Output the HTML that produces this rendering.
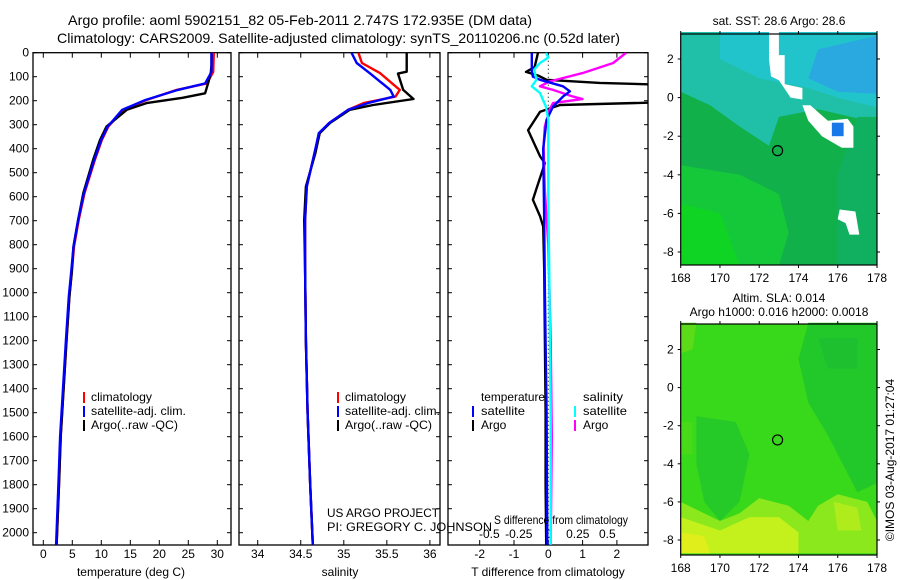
<!DOCTYPE html>
<html><head><meta charset="utf-8">
<style>
html,body{margin:0;padding:0;background:#fff;}
svg{display:block;font-family:"Liberation Sans",sans-serif;}
</style></head>
<body>
<svg id="fig" width="900" height="580" viewBox="0 0 900 580" xmlns="http://www.w3.org/2000/svg">
<defs>
<clipPath id="c1"><rect x="33" y="52.7" width="198" height="492.3"/></clipPath>
<clipPath id="c2"><rect x="239" y="52.7" width="201" height="492.3"/></clipPath>
<clipPath id="c3"><rect x="448" y="52.7" width="200" height="492.3"/></clipPath>
</defs>
<text x="68" y="25" font-size="14" textLength="464" lengthAdjust="spacingAndGlyphs">Argo profile: aoml 5902151_82 05-Feb-2011 2.747S 172.935E (DM data)</text>
<text x="57" y="43" font-size="14" textLength="563" lengthAdjust="spacingAndGlyphs">Climatology: CARS2009. Satellite-adjusted climatology: synTS_20110206.nc (0.52d later)</text>

<g id="p1"></g>
<g id="p2"></g>
<g id="p3"></g>

<g font-size="12">
<rect x="83" y="392" width="2" height="11" fill="#f00"/><text x="91" y="401" textLength="61" lengthAdjust="spacingAndGlyphs">climatology</text>
<rect x="83" y="406" width="2" height="11" fill="#00f"/><text x="91" y="415" textLength="95" lengthAdjust="spacingAndGlyphs">satellite-adj. clim.</text>
<rect x="83" y="420" width="2" height="11" fill="#000"/><text x="91" y="429" textLength="87" lengthAdjust="spacingAndGlyphs">Argo(..raw -QC)</text>
</g>
<g font-size="12">
<rect x="337" y="392" width="2" height="11" fill="#f00"/><text x="345" y="401" textLength="61" lengthAdjust="spacingAndGlyphs">climatology</text>
<rect x="337" y="406" width="2" height="11" fill="#00f"/><text x="345" y="415" textLength="95" lengthAdjust="spacingAndGlyphs">satellite-adj. clim.</text>
<rect x="337" y="420" width="2" height="11" fill="#000"/><text x="345" y="429" textLength="87" lengthAdjust="spacingAndGlyphs">Argo(..raw -QC)</text>
</g>
<g font-size="12">
<text x="481" y="401" textLength="64" lengthAdjust="spacingAndGlyphs">temperature</text><text x="583" y="401" textLength="40" lengthAdjust="spacingAndGlyphs">salinity</text>
<rect x="472" y="406" width="2" height="11" fill="#00f"/><text x="481" y="415" textLength="44" lengthAdjust="spacingAndGlyphs">satellite</text>
<rect x="472" y="420" width="2" height="11" fill="#000"/><text x="481" y="429">Argo</text>
<rect x="574" y="406" width="2" height="11" fill="#0ff"/><text x="583" y="415" textLength="44" lengthAdjust="spacingAndGlyphs">satellite</text>
<rect x="574" y="420" width="2" height="11" fill="#f0f"/><text x="583" y="429">Argo</text>
</g>
<text x="327" y="517" font-size="12" textLength="112" lengthAdjust="spacingAndGlyphs">US ARGO PROJECT</text>
<text x="327" y="531" font-size="12" textLength="165" lengthAdjust="spacingAndGlyphs">PI: GREGORY C. JOHNSON</text>
<text x="494" y="524" font-size="12" textLength="134" lengthAdjust="spacingAndGlyphs">S difference from climatology</text>
<text x="131" y="576" font-size="12" text-anchor="middle">temperature (deg C)</text>
<text x="340" y="576" font-size="12" text-anchor="middle">salinity</text>
<text x="548" y="576" font-size="12" text-anchor="middle">T difference from climatology</text>

<g>
<text x="779" y="25" font-size="12" text-anchor="middle">sat. SST: 28.6 Argo: 28.6</text>
<g id="m1"></g>
</g>
<g>
<text x="779" y="302" font-size="12" text-anchor="middle">Altim. SLA: 0.014</text>
<text x="779" y="316" font-size="12" text-anchor="middle">Argo h1000: 0.016 h2000: 0.0018</text>
<g id="m2"></g>
</g>
<text transform="translate(894,460) rotate(-90)" font-size="12" text-anchor="middle">©IMOS 03-Aug-2017 01:27:04</text>
</svg>
<script>
const tArgoDepth=[0,50,80,120,169,188,210,238,308,363,446,585,697,808,918,1016,1200,1400,1600,1800,2050];
const tArgo=[29.0,29.0,28.9,28.5,27.9,24,17.8,14.4,10.9,9.8,8.6,6.9,6.0,5.2,4.9,4.5,4.0,3.5,3.0,2.7,2.3];
const climDepth=[0,80,128,155,197,238,308,363,446,585,697,808,918,1016,1200,1400,1600,1800,2050];
const tClim=[29.4,29.3,28.2,23,17.8,13.8,11.2,10.1,8.9,7.1,6.1,5.3,4.9,4.5,4.0,3.5,3.0,2.7,2.3];
const tSat=[29.0,29.0,27.9,23.2,17.6,13.6,11.1,10.0,8.8,7.0,6.0,5.2,4.8,4.4,3.9,3.4,2.9,2.6,2.2];
const sArgoDepth=[0,79,87,155,193,218,238,293,335,418,558,697,900,1200,1500,1800,2050];
const sArgo=[35.73,35.73,35.63,35.69,35.81,35.34,35.07,34.84,34.72,34.67,34.56,34.54,34.55,34.56,34.58,34.61,34.64];
const sClimDepth=[0,43,85,155,183,210,238,293,335,418,558,697,900,1200,1500,1800,2050];
const sClim=[35.17,35.21,35.42,35.65,35.6,35.23,35.05,34.83,34.72,34.66,34.57,34.55,34.55,34.56,34.58,34.61,34.64];
const sSat=[35.09,35.15,35.30,35.54,35.58,35.28,35.05,34.83,34.71,34.66,34.57,34.55,34.55,34.56,34.58,34.61,34.64];
const dTArgoDepth=[0,60,80,95,113,126,140,170,204,218,246,323,432,460,565,613,682,724,900,1200,1500,1800,2050];
const dTArgo=[-0.3,-0.4,-0.65,-0.3,-0.05,1.5,5,6,4,0.34,-0.24,-0.59,-0.24,-0.1,-0.34,-0.45,-0.24,-0.15,-0.12,-0.1,-0.08,-0.08,-0.06];
const dSArgoDepth=[0,43,85,120,140,155,183,193,210,238,308,391,572,800,1200,1600,2050];
const dSArgo=[0.66,0.55,0.29,0.01,-0.07,0.04,0.21,0.29,0.04,0.01,-0.03,-0.04,-0.03,0.0,0.02,0.03,0.02];
const dTSatDepth=[0,80,100,113,140,161,183,224,280,400,700,1000,1500,2050];
const dTSat=[-0.48,-0.48,-0.45,-0.24,0.43,0.63,0.43,0.14,-0.05,-0.15,-0.12,-0.1,-0.05,-0.03];
const dSSatDepth=[0,20,43,71,113,140,168,224,280,600,1000,1500,2050];
const dSSat=[-0.02,0,-0.07,-0.12,-0.1,-0.14,-0.07,-0.02,0,0.0,0.01,0.02,0.02];
const depthTicks=[0,100,200,300,400,500,600,700,800,900,1000,1100,1200,1300,1400,1500,1600,1700,1800,1900,2000];
const tTicks=[0,5,10,15,20,25,30];
const sTicks=[34,34.5,35,35.5,36];
const dTTicks=[-2,-1,0,1,2];
const dSTicks=[-0.5,-0.25,0,0.25,0.5];
const dSTickLabels=['-0.5','-0.25','0','0.25','0.5'];
const lonTicks=[168,170,172,174,176,178];
const latTicks=[2,0,-2,-4,-6,-8];
const argoLon=172.935, argoLat=-2.747;

const yD=d=>52.7+d*0.24;
const xT=t=>43.3+5.8*t;
const xS=s=>257.7+86.1*(s-34);
const xdT=t=>548.3+34.3*t;
const xdS=s=>548.3+118*s;
const NS='http://www.w3.org/2000/svg';
function el(tag,attrs,parent){const e=document.createElementNS(NS,tag);for(const k in attrs)e.setAttribute(k,attrs[k]);parent.appendChild(e);return e;}

function frame(g,x0,x1,xs,xt,labels,showY){
  const top=52.7,bot=545;
  const r=el('rect',{x:x0,y:top,width:x1-x0,height:bot-top,fill:'none',stroke:'#000','stroke-width':1.3},g);
  
  
  depthTicks.forEach(d=>{
    el('line',{x1:x0,x2:x0+4,y1:yD(d),y2:yD(d),stroke:'#000'},g);
    el('line',{x1:x1-4,x2:x1,y1:yD(d),y2:yD(d),stroke:'#000'},g);
    if(showY){const t=el('text',{x:x0-4,y:yD(d)+4,'font-size':12,'text-anchor':'end'},g);t.textContent=d;
      
      }
  });
  xt.forEach((v,i)=>{
    const x=xs(v);
    el('line',{x1:x,x2:x,y1:top,y2:top+5,stroke:'#000'},g);
    el('line',{x1:x,x2:x,y1:bot-5,y2:bot,stroke:'#000'},g);
    const t=el('text',{x:x,y:558,'font-size':12,'text-anchor':'middle'},g);t.textContent=labels?labels[i]:v;
    
    
  });
}
function line(g,depths,vals,xs,color,name,clip){
  const p=depths.map((d,i)=>xs(vals[i]).toFixed(1)+','+yD(d).toFixed(1)).join(' ');
  const e=el('polyline',{points:p,fill:'none',stroke:color,'stroke-width':2.4,'clip-path':'url(#'+clip+')','stroke-linejoin':'round'},g);
  
  
}
const p1=document.getElementById('p1'),p2=document.getElementById('p2'),p3=document.getElementById('p3');
frame(p1,33,231,xT,tTicks,null,true);
frame(p2,239,440,xS,sTicks,null,false);
frame(p3,448,648,xdT,dTTicks,null,false);
dSTicks.forEach((v,i)=>{const t=el('text',{x:xdS(v),y:538,'font-size':12,'text-anchor':'middle'},p3);t.textContent=dSTickLabels[i];
  
  });
const z=el('line',{x1:xdT(0),x2:xdT(0),y1:52.7,y2:545,stroke:'#000','stroke-dasharray':'1,3'},p3);



line(p1,climDepth,tClim,xT,'#f00','temperature-climatology-line','c1');
line(p1,tArgoDepth,tArgo,xT,'#000','temperature-argo-line','c1');
line(p1,climDepth,tSat,xT,'#00f','temperature-satellite-line','c1');
line(p2,sClimDepth,sClim,xS,'#f00','salinity-climatology-line','c2');
line(p2,sArgoDepth,sArgo,xS,'#000','salinity-argo-line','c2');
line(p2,sClimDepth,sSat,xS,'#00f','salinity-satellite-line','c2');
line(p3,dTArgoDepth,dTArgo,xdT,'#000','t-diff-argo-line','c3');
line(p3,dSArgoDepth,dSArgo,xdS,'#f0f','s-diff-argo-line','c3');
line(p3,dTSatDepth,dTSat,xdT,'#00f','t-diff-satellite-line','c3');
line(p3,dSSatDepth,dSSat,xdS,'#0ff','s-diff-satellite-line','c3');

function mapAxes(g,top,bot,lat2y,latm8y){
  const L=680.7,R=877;
  const lx=v=>L+(v-168)*(R-L)/10;
  const ly=v=>lat2y+(2-v)*(latm8y-lat2y)/10;
  return {L,R,lx,ly,finish(){
    const r=el('rect',{x:L,y:top,width:R-L,height:bot-top,fill:'none',stroke:'#000','stroke-width':1.2},g);
    
    
    lonTicks.forEach(v=>{el('line',{x1:lx(v),x2:lx(v),y1:top-3,y2:top,stroke:'#000'},g);el('line',{x1:lx(v),x2:lx(v),y1:bot,y2:bot+3,stroke:'#000'},g);
      const t=el('text',{x:lx(v),y:bot+17,'font-size':12,'text-anchor':'middle'},g);t.textContent=v;
      
      });
    latTicks.forEach(v=>{el('line',{x1:L-3,x2:L,y1:ly(v),y2:ly(v),stroke:'#000'},g);el('line',{x1:R,x2:R+3,y1:ly(v),y2:ly(v),stroke:'#000'},g);
      const t=el('text',{x:L-7,y:ly(v)+4,'font-size':12,'text-anchor':'end'},g);t.textContent=v;
      
      });
    const c=el('circle',{cx:lx(argoLon),cy:ly(argoLat),r:5,fill:'none',stroke:'#000','stroke-width':1.2},g);
    
    
  }};
}
function poly(g,pts,fill,A){el('polygon',{points:pts.map(p=>A.lx(p[0]).toFixed(1)+','+A.ly(p[1]).toFixed(1)).join(' '),fill:fill},g);}
const m1=document.getElementById('m1');
const A1=mapAxes(m1,34,265,59,252);
el('rect',{x:A1.L,y:34,width:A1.R-A1.L,height:231,fill:'#12b04a'},m1);
poly(m1,[[168,3.4],[178,3.4],[178,-1.3],[175,-0.6],[173,-1],[172.5,-2.5],[171,-1.5],[169.5,-0.4],[168,0.3]],'#20c0a8',A1);
poly(m1,[[170,3.4],[178,3.4],[178,-0.5],[176,0],[174.5,0.5],[172,1],[170,2]],'#22c4cc',A1);
poly(m1,[[175,2.5],[178,3.2],[178,0.2],[176,0.3],[174.5,1]],'#2aa8e0',A1);
poly(m1,[[168,-3.5],[171,-4],[173,-5],[173.5,-7],[173,-8.7],[168,-8.7]],'#14c83a',A1);
poly(m1,[[168,-5.5],[170,-6],[171,-8.7],[168,-8.7]],'#10d424',A1);
poly(m1,[[177,-1],[178,-1],[178,-8.7],[176,-8.7],[176,-4]],'#10b060',A1);
const isl=[[[172.5,3.4],[173,3.4],[173,2.2],[173.3,2.2],[173.3,0.7],[174.2,0.5],[174.2,-0.1],[173.6,0],[173,0.9],[172.6,1.1],[172.5,2]],
 [[174.2,-0.4],[174.6,-0.4],[175.5,-1.2],[176.5,-1.1],[176.8,-1.5],[176.8,-2.6],[176.2,-2.6],[175.2,-2],[174.5,-1.2]],
 [[176.1,-5.8],[176.9,-5.9],[177.1,-7.1],[176.6,-7.1],[176.4,-6.5],[176,-6.3]]];
isl.forEach(p=>poly(m1,p,'#fff',A1));
el('rect',{x:A1.lx(175.7),y:A1.ly(-1.3),width:A1.lx(176.3)-A1.lx(175.7),height:A1.ly(-2)-A1.ly(-1.3),fill:'#1878e8'},m1);
A1.finish();

const m2=document.getElementById('m2');
const A2=mapAxes(m2,324,555,349.5,540);
el('rect',{x:A2.L,y:324,width:A2.R-A2.L,height:231,fill:'#38d81a'},m2);
poly(m2,[[174.5,3.4],[178,3.4],[178,-5],[177,-5.5],[175.5,-2.5],[174.5,-0.8],[174,1.5]],'#22c82a',A2);
poly(m2,[[175,2.6],[177,2.6],[177,1],[175.5,1]],'#1ec030',A2);
poly(m2,[[168.8,-1.5],[170.8,-1.8],[171.5,-3.5],[171,-6],[170,-7],[169.2,-6],[168.8,-4]],'#26ca28',A2);
poly(m2,[[168,-6],[170,-7],[171,-6.6],[172,-5.8],[173.5,-6.2],[174.5,-7],[175,-6.2],[176,-5.6],[177.5,-6],[178,-7],[178,-8.7],[168,-8.7]],'#8ae81c',A2);
poly(m2,[[168,-6.8],[170,-7.5],[171.5,-6.8],[173,-6.8],[174,-7.6],[174,-8.7],[168,-8.7]],'#c4f01c',A2);
poly(m2,[[175.8,-6],[177,-6.3],[177.2,-7.5],[176,-7.5]],'#b0ec1c',A2);
poly(m2,[[168,-7.6],[169.2,-7.8],[169.5,-8.7],[168,-8.7]],'#e0ee1c',A2);
poly(m2,[[168,3.4],[168.8,3.4],[168.6,2],[168,1.8]],'#5cdc18',A2);
poly(m2,[[168,-1.8],[168.6,-1.8],[168.6,-3.5],[168,-3.5]],'#48da18',A2);
A2.finish();
</script>
</body></html>
